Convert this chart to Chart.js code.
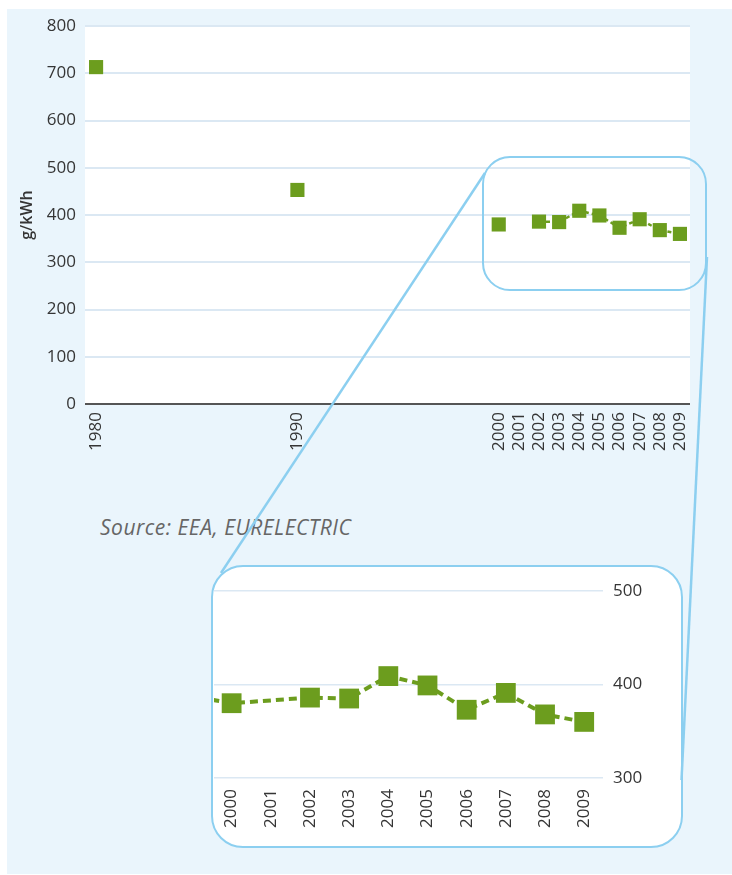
<!DOCTYPE html>
<html>
<head>
<meta charset="utf-8">
<script src="https://cdn.jsdelivr.net/npm/chart.js@4.4.1/dist/chart.umd.min.js"></script>
<style>
  html, body { margin: 0; padding: 0; background: #fff; }
  #wrap { position: relative; width: 732px; height: 875px; overflow: hidden; }
  #panel { position: absolute; left: 7px; top: 9px; right: 0; bottom: 1px; background: #eaf5fc; }
  canvas { position: absolute; }
  #mainChart { left: 0; top: 0; }
  #insetChart { left: 200px; top: 560px; }
  .zoomBox { position: absolute; box-sizing: border-box; border: 2.5px solid #8ccff0; }
  #insetBox { left: 211px; top: 565px; width: 472px; height: 283px; border-radius: 32px; background: #fff; }
  #mainBox { left: 482px; top: 156px; width: 225px; height: 135px; border-radius: 28px; }
  #source { position: absolute; left: 100px; top: 513px; font: italic 21px 'Open Sans', sans-serif; letter-spacing: 0.5px; color: #666; }
  svg { position: absolute; left: 0; top: 0; pointer-events: none; }
</style>
</head>
<body>
<div id="wrap">
  <div id="panel"></div>
  <canvas id="mainChart" width="732" height="470"></canvas>
  <div id="mainBox" class="zoomBox"></div>
  <div id="source">Source: EEA, EURELECTRIC</div>
  <div id="insetBox" class="zoomBox"></div>
  <canvas id="insetChart" width="500" height="290"></canvas>
  <svg width="732" height="875">
    <line x1="485" y1="173" x2="221" y2="573" stroke="#8ccff0" stroke-width="2.5"/>
    <line x1="707" y1="257" x2="681.5" y2="780" stroke="#8ccff0" stroke-width="2.5"/>
  </svg>
</div>
<script>
// données (g/kWh)
const years = [1980, 1990, 2000, 2001, 2002, 2003, 2004, 2005, 2006, 2007, 2008, 2009];
const emissions = [713, 453, 380, null, 386, 385, 409, 399, 373, 391, 368, 360];
const mainTickYears = [1980, 1990, 2000, 2001, 2002, 2003, 2004, 2005, 2006, 2007, 2008, 2009];
const insetTickYears = [2000, 2001, 2002, 2003, 2004, 2005, 2006, 2007, 2008, 2009];

const green = '#6c9d1e';
const gridBlue = '#dbe8f3';
const textColor = '#353535';

Chart.defaults.font.family = "'Open Sans', sans-serif";
Chart.defaults.color = textColor;

const points = years.map((y, i) => ({ x: y, y: emissions[i] }));

// fond blanc de la zone de tracé
const whiteArea = {
    id: 'whiteArea',
    beforeDraw(chart) {
        const a = chart.chartArea;
        chart.ctx.save();
        chart.ctx.fillStyle = '#fff';
        chart.ctx.fillRect(a.left, a.top, a.right - a.left, a.bottom - a.top);
        chart.ctx.restore();
    }
};

function fixedTicks(list) {
    return function(scale) {
        scale.ticks = list.map(v => ({ value: v }));
    };
}

new Chart(document.getElementById('mainChart'), {
    type: 'line',
    data: {
        datasets: [{
            data: points,
            borderColor: green,
            backgroundColor: green,
            borderWidth: 2.5,
            borderDash: [4, 3],
            pointStyle: 'rect',
            pointRadius: 10,
            pointBorderWidth: 0,
            spanGaps: false,
            segment: {
                // pas de trait entre les années éloignées
                borderColor: ctx => (ctx.p1.parsed.x - ctx.p0.parsed.x > 1.5 ? 'transparent' : undefined)
            }
        }]
    },
    options: {
        responsive: false,
        animation: false,
        devicePixelRatio: 1,
        layout: { padding: { left: 0, right: 42, top: 26, bottom: 0 } },
        plugins: { legend: { display: false }, tooltip: { enabled: false } },
        scales: {
            x: {
                type: 'linear',
                min: 1979.45,
                max: 2009.5,
                afterBuildTicks: fixedTicks(mainTickYears),
                afterFit: s => { s.height = 66; },
                grid: { display: false, drawTicks: false },
                border: { display: false },
                ticks: {
                    minRotation: 90, maxRotation: 90, padding: 8, autoSkip: false,
                    font: { size: 17 },
                    callback: v => String(v)
                }
            },
            y: {
                min: 0,
                max: 800,
                afterFit: s => { s.width = 85; },
                grid: {
                    drawTicks: false,
                    lineWidth: 2,
                    color: ctx => (ctx.tick && ctx.tick.value === 0 ? '#555' : gridBlue)
                },
                border: { display: false },
                ticks: { stepSize: 100, padding: 9, font: { size: 17 } },
                title: { display: true, text: 'g/kWh', font: { size: 16, weight: '600' }, padding: { top: 18, bottom: 0 } }
            }
        }
    },
    plugins: [whiteArea]
});

new Chart(document.getElementById('insetChart'), {
    type: 'line',
    data: {
        datasets: [{
            data: points,
            borderColor: green,
            backgroundColor: green,
            borderWidth: 4,
            borderDash: [8, 5],
            pointStyle: 'rect',
            pointRadius: 14,
            pointBorderWidth: 0,
            spanGaps: true
        }]
    },
    options: {
        responsive: false,
        animation: false,
        devicePixelRatio: 1,
        layout: { padding: { left: 12, right: 37, top: 31, bottom: 12 } },
        plugins: { legend: { display: false }, tooltip: { enabled: false } },
        scales: {
            x: {
                type: 'linear',
                min: 1999.55,
                max: 2009.48,
                afterBuildTicks: fixedTicks(insetTickYears),
                afterFit: s => { s.height = 60; },
                grid: { display: false, drawTicks: false },
                border: { display: false },
                ticks: {
                    minRotation: 90, maxRotation: 90, padding: 11, autoSkip: false,
                    font: { size: 17 },
                    callback: v => String(v)
                }
            },
            y: {
                position: 'right',
                min: 300,
                max: 500,
                afterFit: s => { s.width = 60; },
                grid: { drawTicks: false, lineWidth: 1.5, color: gridBlue },
                border: { display: false },
                ticks: { stepSize: 100, padding: 10, font: { size: 17 } }
            }
        }
    }
});
</script>
</body>
</html>
